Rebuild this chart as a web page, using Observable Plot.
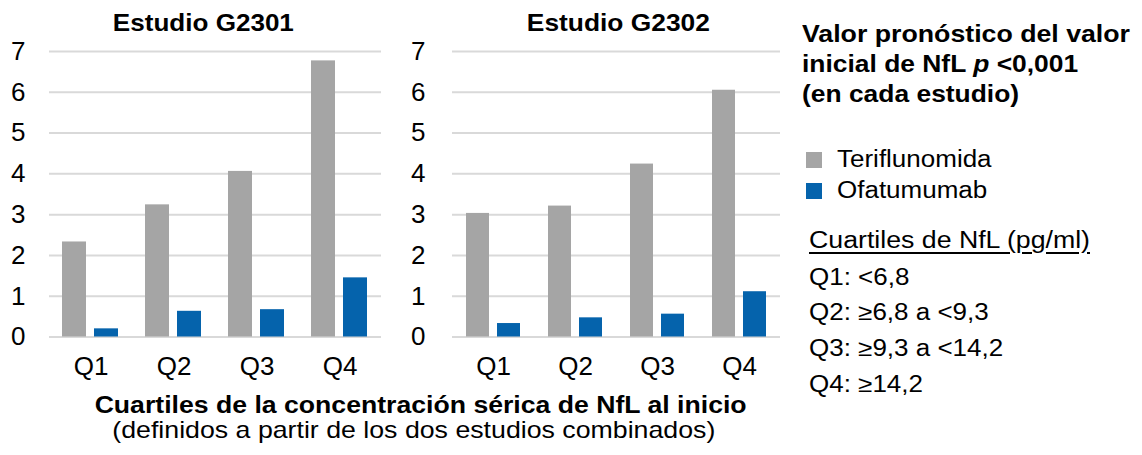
<!DOCTYPE html>
<html>
<head>
<meta charset="utf-8">
<script src="https://cdn.jsdelivr.net/npm/d3@7"></script>
<script src="https://cdn.jsdelivr.net/npm/@observablehq/plot@0.6"></script>
<style>
  html, body { margin: 0; padding: 0; background: #fff; }
  #root { position: relative; width: 1142px; height: 455px; overflow: hidden;
          font-family: "Liberation Sans", Arial, sans-serif; color: #000; }
  .abs { position: absolute; white-space: nowrap; line-height: 1; }
  .panel { position: absolute; top: 0; }
  .sq { position: absolute; width: 16px; height: 16px; }
</style>
</head>
<body>
<div id="root"></div>
<script>
// ---------- data ----------
const quartiles = ["Q1", "Q2", "Q3", "Q4"];
const seriesNames = ["Teriflunomida", "Ofatumumab"];
const seriesColors = ["#a5a5a5", "#0563ac"];
const yTicks = [0, 1, 2, 3, 4, 5, 6, 7];
const studyTitles = ["Estudio G2301", "Estudio G2302"];
const g2301Teriflunomida = [2.33, 3.24, 4.06, 6.77];
const g2301Ofatumumab   = [0.20, 0.63, 0.67, 1.45];
const g2302Teriflunomida = [3.03, 3.21, 4.24, 6.05];
const g2302Ofatumumab   = [0.33, 0.47, 0.56, 1.11];
const headingLines = ["Valor pronóstico del valor", "inicial de NfL <i>p</i> &lt;0,001", "(en cada estudio)"];
const quartileHeader = "Cuartiles de NfL (pg/ml)";
const quartileDefs = ["Q1: <6,8", "Q2: ≥6,8 a <9,3", "Q3: ≥9,3 a <14,2", "Q4: ≥14,2"];
const xTitle = "Cuartiles de la concentración sérica de NfL al inicio";
const xSubtitle = "(definidos a partir de los dos estudios combinados)";

function rows(teri, ofa) {
  const out = [];
  quartiles.forEach((q, i) => {
    out.push({quartile: q, series: seriesNames[0], value: teri[i]});
    out.push({quartile: q, series: seriesNames[1], value: ofa[i]});
  });
  return out;
}

const root = document.getElementById("root");
const FONT = '"Liberation Sans", Arial, sans-serif';

function panel(data, left, width, marginLeft, tickPadding) {
  const chart = Plot.plot({
    width, height: 385,
    marginLeft, marginRight: 9, marginTop: 51, marginBottom: 48.5,
    style: {fontFamily: FONT, fontSize: "26px", color: "#000", background: "transparent"},
    fx: {domain: quartiles, padding: 0, label: null},
    x: {domain: seriesNames, paddingInner: 0.248, paddingOuter: 0.409, axis: null},
    y: {domain: [0, 7], axis: null},
    color: {domain: seriesNames, range: seriesColors},
    marks: [
      Plot.ruleY(yTicks, {stroke: "#d9d9d9", strokeWidth: 2}),
      Plot.barY(data, {fx: "quartile", x: "series", y: "value", fill: "series"}),
      Plot.axisY({ticks: yTicks, tickSize: 0, tickPadding, fontSize: 26, tickFormat: d => String(d), label: null}),
      Plot.axisFx({anchor: "bottom", tickSize: 0, tickPadding: 20, fontSize: 26, label: null})
    ]
  });
  chart.classList.add("panel");
  chart.style.left = left + "px";
  root.appendChild(chart);
}

panel(rows(g2301Teriflunomida, g2301Ofatumumab), 0, 390, 49, 24);
panel(rows(g2302Teriflunomida, g2302Ofatumumab), 390, 400, 60, 27);

// text helper: place by baseline, optional width fit
function label(html, opts) {
  const el = document.createElement("div");
  el.className = "abs";
  el.innerHTML = html;
  const size = opts.size;
  el.style.fontSize = size + "px";
  el.style.fontWeight = opts.bold ? "bold" : "normal";
  if (opts.underline) { el.style.textDecoration = "underline"; el.style.textUnderlineOffset = "4px"; el.style.textDecorationThickness = "2px"; }
  el.style.top = (opts.baseline - 0.8465 * size) + "px";
  root.appendChild(el);
  const w = el.getBoundingClientRect().width;
  const sx = opts.width ? opts.width / w : (opts.sx || 1);
  if (opts.center !== undefined) {
    el.style.left = (opts.center - w / 2) + "px";
    el.style.transformOrigin = "50% 50%";
  } else {
    el.style.left = opts.left + "px";
    el.style.transformOrigin = "0 50%";
  }
  el.style.transform = "scaleX(" + sx + ")";
  return el;
}

label(studyTitles[0], {size: 24, bold: true, baseline: 31, center: 203, width: 181});
label(studyTitles[1], {size: 24, bold: true, baseline: 31, center: 618, width: 183});

label(headingLines[0], {size: 24, bold: true, baseline: 42, left: 802, width: 328});
label(headingLines[1], {size: 24, bold: true, baseline: 72, left: 802, sx: 1.1});
label(headingLines[2], {size: 24, bold: true, baseline: 102, left: 802, sx: 1.1});

// legend
seriesNames.forEach((name, i) => {
  const sq = document.createElement("div");
  sq.className = "sq";
  sq.style.left = "806px";
  sq.style.top = (152 + i * 31) + "px";
  sq.style.background = seriesColors[i];
  root.appendChild(sq);
  label(name, {size: 23, baseline: 167 + i * 31, left: 837, sx: 1.13});
});

label(quartileHeader, {size: 23, baseline: 248, left: 809, width: 281, underline: true});
quartileDefs.forEach((t, i) => {
  const safe = t.replace(/</g, "&lt;");
  label(safe, {size: 23, baseline: 285 + i * 35.7, left: 809, sx: 1.13});
});

label(xTitle, {size: 23, bold: true, baseline: 413, center: 421, width: 652});
label(xSubtitle, {size: 24, baseline: 438, center: 413.5, width: 603});
</script>
</body>
</html>
